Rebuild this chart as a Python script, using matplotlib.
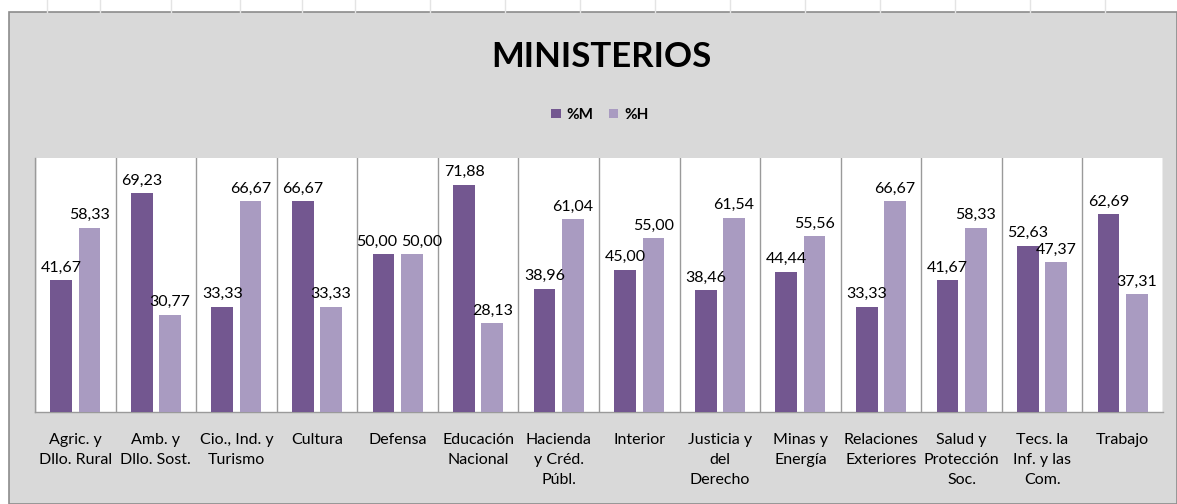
import numpy as np
import matplotlib.pyplot as plt
from matplotlib.patches import Rectangle, Patch
from matplotlib.lines import Line2D

# data
categorias = ["Agric. y\nDllo. Rural", "Amb. y\nDllo. Sost.", "Cio., Ind. y\nTurismo",
              "Cultura", "Defensa", "Educación\nNacional", "Hacienda\ny Créd.\nPúbl.",
              "Interior", "Justicia y\ndel\nDerecho", "Minas y\nEnergía",
              "Relaciones\nExteriores", "Salud y\nProtección\nSoc.",
              "Tecs. la\nInf. y las\nCom.", "Trabajo"]
pct_m = [41.67, 69.23, 33.33, 66.67, 50.00, 71.88, 38.96, 45.00, 38.46, 44.44,
         33.33, 41.67, 52.63, 62.69]
pct_h = [58.33, 30.77, 66.67, 33.33, 50.00, 28.13, 61.04, 55.00, 61.54, 55.56,
         66.67, 58.33, 47.37, 37.31]

plt.rcParams['font.family'] = ['Lato', 'DejaVu Sans']

W, H = 1177, 504
fig = plt.figure(figsize=(W / 100, H / 100), dpi=100)
fig.patch.set_facecolor('white')

# spreadsheet backdrop: faint cell lines on top strip, gray chart area
for xc in [47, 100, 171, 240, 302, 355, 430, 505, 580, 655, 730, 805, 880, 955, 1030, 1105]:
    fig.add_artist(Line2D([xc / W, xc / W], [1 - 12 / H, 1], color='#e4e4e4', lw=1))
fig.add_artist(Rectangle((9 / W, 0), 1 - 9 / W, 1 - 12 / H, transform=fig.transFigure,
                         facecolor='#d9d9d9', edgecolor='#8c8c8c', lw=1.2, zorder=0))

left, right, top, bottom = 35, 1163, 158, 412
ax = fig.add_axes([left / W, 1 - bottom / H, (right - left) / W, (bottom - top) / H])
ax.set_facecolor('white')

c_m = '#735790'
c_h = '#a99bc1'
x = np.arange(len(categorias))
off, bw = 0.175, 0.27
b1 = ax.bar(x - off, pct_m, bw, color=c_m, zorder=3)
b2 = ax.bar(x + off, pct_h, bw, color=c_h, zorder=3)

fmt = lambda v: f"{v:.2f}".replace('.', ',')
t1 = ax.bar_label(b1, labels=[fmt(v) for v in pct_m], padding=4, fontsize=11.5, zorder=4)
t2 = ax.bar_label(b2, labels=[fmt(v) for v in pct_h], padding=4, fontsize=11.5, zorder=4)
# Defensa: equal values, labels touch -> nudge apart a little
t1[4].xyann = (-5, 4)
t2[4].xyann = (7, 4)

ax.set_xlim(-0.5, len(categorias) - 0.5)
ax.set_ylim(0, 80.4)
ax.set_yticks([])
ax.set_xticks(x)
ax.set_xticklabels(categorias, fontsize=11.5, linespacing=1.55, va='top')
ax.tick_params(axis='x', length=0, pad=15)
ax.set_xticks(np.arange(len(categorias) + 1) - 0.5, minor=True)
ax.tick_params(axis='x', which='minor', length=0)
ax.grid(which='minor', axis='x', color='#9a9a9a', lw=1, zorder=1)
for s in ax.spines.values():
    s.set_color('#9a9a9a')
    s.set_linewidth(1)
ax.spines['top'].set_visible(False)
ax.spines['right'].set_visible(False)

fig.text(601 / W, 1 - 57 / H, 'MINISTERIOS', ha='center', va='center',
         fontsize=25, fontweight='bold')

handles = [Patch(facecolor=c_m, label='%M'), Patch(facecolor=c_h, label='%H')]
fig.legend(handles=handles, loc='center', bbox_to_anchor=(600 / W, 1 - 115 / H),
           ncol=2, frameon=False, prop={'weight': 'bold', 'size': 11},
           handlelength=0.6, handleheight=0.6, handletextpad=0.4, columnspacing=1.0)

fig.savefig('out.png', dpi=100)
